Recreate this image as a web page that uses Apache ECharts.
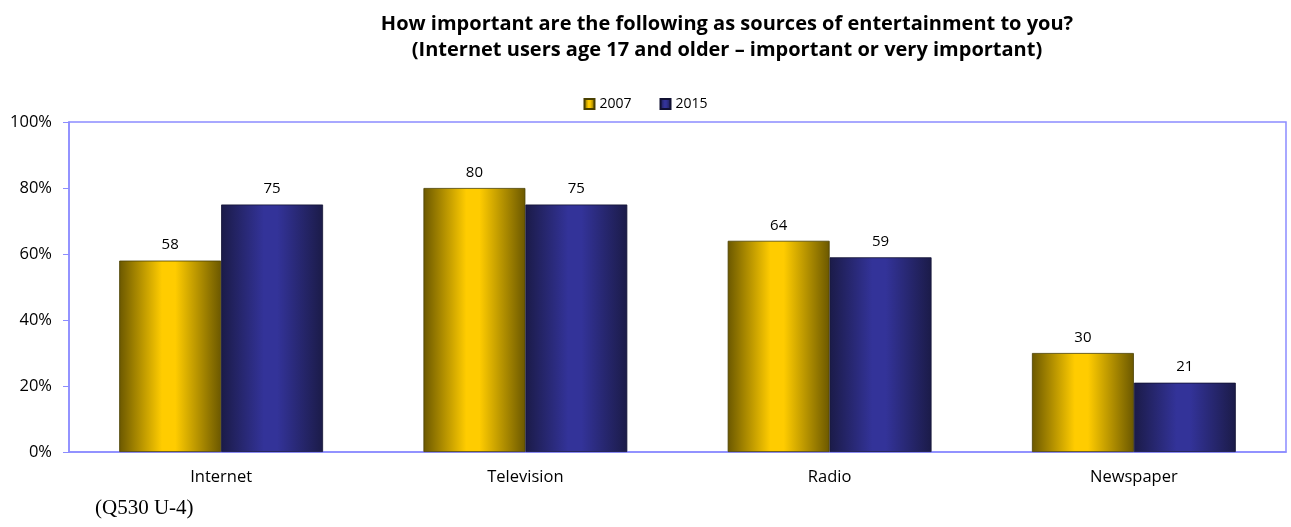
<!DOCTYPE html>
<html>
<head>
<meta charset="utf-8">
<script src="https://cdn.jsdelivr.net/npm/echarts@6/dist/echarts.min.js"></script>
<style>
html,body{margin:0;padding:0;background:#fff;}
#chart{width:1291px;height:527px;}
</style>
</head>
<body>
<div id="chart"></div>
<script>
const categories = ['Internet', 'Television', 'Radio', 'Newspaper'];
const seriesNames = ['2007', '2015'];
const values2007 = [58, 80, 64, 30];
const values2015 = [75, 75, 59, 21];
const yTicks = [0, 20, 40, 60, 80, 100];

function grad(edge, mid) {
  return new echarts.graphic.LinearGradient(0, 0, 1, 0, [
    {offset: 0, color: edge},
    {offset: 0.42, color: mid},
    {offset: 0.55, color: mid},
    {offset: 1, color: edge}
  ]);
}
const yellow = grad('#6b5800', '#ffcc00');
const blue = grad('#1b1b48', '#333399');

const chart = echarts.init(document.getElementById('chart'));
chart.setOption({
  animation: false,
  title: {
    text: 'How important are the following as sources of entertainment to you?\n(Internet users age 17 and older \u2013 important or very important)',
    left: 722, top: 6, textAlign: 'center',
    textStyle: {fontFamily: 'Open Sans', fontWeight: 'bold', fontSize: 20, lineHeight: 26, color: '#000'}
  },
  legend: {
    data: seriesNames,
    top: 92, left: 'center',
    icon: 'rect',
    itemWidth: 10, itemHeight: 10, itemGap: 28,
    textStyle: {fontFamily: 'Open Sans', fontSize: 14, color: '#000'}
  },
  grid: {left: 69, right: 5, top: 122, bottom: 75, show: true, borderColor: '#8c8cff', borderWidth: 1.5},
  xAxis: {
    type: 'category', data: categories,
    axisLine: {lineStyle: {color: '#8c8cff', width: 1.5}},
    axisTick: {show: false},
    axisLabel: {fontFamily: 'Open Sans', fontSize: 16.5, color: '#000', margin: 17}
  },
  yAxis: {
    type: 'value', min: 0, max: 100, interval: 20,
    axisLine: {show: true, lineStyle: {color: '#8c8cff', width: 1.5}},
    axisTick: {show: true, length: 6, lineStyle: {color: '#8c8cff'}},
    splitLine: {show: false},
    axisLabel: {fontFamily: 'Open Sans', fontSize: 16.5, color: '#000', margin: 17,
      formatter: v => yTicks.includes(v) ? v + '%' : ''}
  },
  series: [
    {name: seriesNames[0], type: 'bar', data: values2007, barWidth: '33.5%', barGap: '0%',
     itemStyle: {color: yellow, borderColor: '#4a4000', borderWidth: 0.8},
     label: {show: true, position: 'top', distance: 8, fontFamily: 'Open Sans', fontSize: 15, color: '#000'}},
    {name: seriesNames[1], type: 'bar', data: values2015, barWidth: '33.5%', barGap: '0%',
     itemStyle: {color: blue, borderColor: '#111133', borderWidth: 0.8},
     label: {show: true, position: 'top', distance: 8, fontFamily: 'Open Sans', fontSize: 15, color: '#000'}}
  ],
  graphic: [{
    type: 'text', left: 95, top: 498,
    style: {text: '(Q530 U-4)', fontFamily: 'Liberation Serif', fontSize: 21, fill: '#000'}
  }]
});
</script>
</body>
</html>
